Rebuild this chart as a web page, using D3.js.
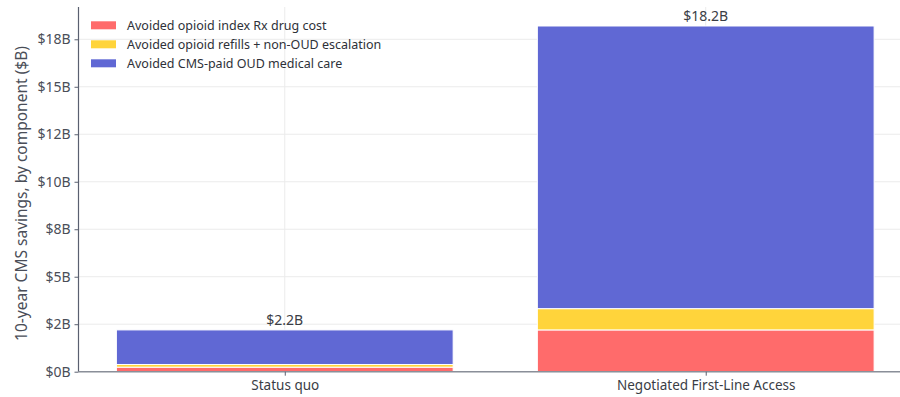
<!DOCTYPE html>
<html>
<head>
<meta charset="utf-8">
<script src="https://cdn.jsdelivr.net/npm/d3@7"></script>
<style>
  html, body { margin: 0; padding: 0; background: #fff; }
  svg { display: block; font-family: "Noto Sans", "DejaVu Sans", sans-serif; }
</style>
</head>
<body>
<svg id="chart" width="900" height="397"></svg>
<script>
// Scenarios and their stacked savings components ($B over 10 years)
const scenarios = ["Status quo", "Negotiated First-Line Access"];
const components = [
  "Avoided opioid index Rx drug cost",
  "Avoided opioid refills + non-OUD escalation",
  "Avoided CMS-paid OUD medical care"
];
const rxDrugCost = [0.24, 2.20];
const refillsEscalation = [0.14, 1.12];
const oudMedicalCare = [1.82, 14.88];
const totalLabels = ["$2.2B", "$18.2B"];
const yTickValues = [0, 2.5, 5, 7.5, 10, 12.5, 15, 17.5];
const yTickLabels = ["$0B", "$2B", "$5B", "$8B", "$10B", "$12B", "$15B", "$18B"];
const colors = ["#FF6B6B", "#FFD43B", "#6068D4"];

const svg = d3.select("#chart");
const plotLeft = 78.5, plotRight = 912, plotTop = 7, plotBottom = 371.7;

// Bars sit at integer positions with width 0.8, padded like a default plot
const x = d3.scaleLinear().domain([-0.49, 1.49]).range([plotLeft, plotRight]);
const y = d3.scaleLinear().domain([0, 19.2]).range([plotBottom, plotTop]);
const barW = 0.8;

const series = [rxDrugCost, refillsEscalation, oudMedicalCare];
const stacked = scenarios.map((s, i) => {
  let base = 0;
  return series.map((arr, k) => {
    const seg = { i, k, y0: base, y1: base + arr[i] };
    base += arr[i];
    return seg;
  });
});
const totals = scenarios.map((s, i) => d3.sum(series, arr => arr[i]));

// Grid
const grid = svg.append("g");
grid.selectAll("line.h").data(yTickValues).join("line")
  .attr("x1", plotLeft).attr("x2", 900)
  .attr("y1", d => y(d)).attr("y2", d => y(d))
  .attr("stroke", "#ebebeb").attr("stroke-width", 1);
grid.selectAll("line.v").data(scenarios).join("line")
  .attr("x1", (d, i) => x(i)).attr("x2", (d, i) => x(i))
  .attr("y1", plotTop).attr("y2", plotBottom)
  .attr("stroke", "#ebebeb").attr("stroke-width", 1);

// Stacked bars
svg.append("g").selectAll("rect").data(stacked.flat()).join("rect")
  .attr("x", d => x(d.i - barW / 2))
  .attr("width", d => x(d.i + barW / 2) - x(d.i - barW / 2))
  .attr("y", d => y(d.y1))
  .attr("height", d => y(d.y0) - y(d.y1))
  .attr("fill", d => colors[d.k])
  .attr("stroke", "#fff").attr("stroke-width", 1);

// Totals above bars
svg.append("g").selectAll("text").data(scenarios).join("text")
  .attr("x", (d, i) => x(i))
  .attr("y", (d, i) => y(totals[i]) - 4.5)
  .attr("text-anchor", "middle")
  .attr("font-size", 14).attr("fill", "#3a3d45")
  .text((d, i) => totalLabels[i]);

// Y axis
const yAxis = d3.axisLeft(y).tickValues(yTickValues)
  .tickFormat((d, i) => yTickLabels[i]).tickSize(4).tickPadding(4);
const gy = svg.append("g").attr("transform", `translate(${plotLeft},0)`).call(yAxis);
gy.select(".domain").attr("d", `M0,${plotTop}V${plotBottom}`).attr("stroke", "#5a6070").attr("stroke-width", 1.2);
gy.selectAll(".tick line").attr("stroke", "#5a6070");
gy.selectAll(".tick text").attr("font-size", 14).attr("fill", "#4a4e58")
  .attr("font-family", "Noto Sans, sans-serif");

// X axis
const xAxis = d3.axisBottom(x).tickValues([0, 1])
  .tickFormat((d, i) => scenarios[i]).tickSize(4).tickPadding(5);
const gx = svg.append("g").attr("transform", `translate(0,${plotBottom})`).call(xAxis);
gx.select(".domain").attr("d", `M${plotLeft},0H900`).attr("stroke", "#8a8f99").attr("stroke-width", 1.5);
gx.selectAll(".tick line").attr("stroke", "#5a6070");
gx.selectAll(".tick text").attr("font-size", 13.5).attr("fill", "#3a3d45")
  .attr("font-family", "Noto Sans, sans-serif");

// Y axis title
svg.append("text")
  .attr("transform", "translate(27,193.5) rotate(-90)")
  .attr("text-anchor", "middle")
  .attr("font-size", 15.5).attr("fill", "#4a4e58")
  .text("10-year CMS savings, by component ($B)");

// Legend
const legend = svg.append("g").attr("transform", "translate(91,25.3)");
const items = legend.selectAll("g").data(components).join("g")
  .attr("transform", (d, i) => `translate(0,${i * 19})`);
items.append("rect").attr("x", 0).attr("y", -4).attr("width", 25).attr("height", 8)
  .attr("fill", (d, i) => colors[i]);
items.append("text").attr("x", 36).attr("y", 0).attr("dy", "0.35em")
  .attr("font-size", 12.5).attr("fill", "#2e3138").text(d => d);
</script>
</body>
</html>
